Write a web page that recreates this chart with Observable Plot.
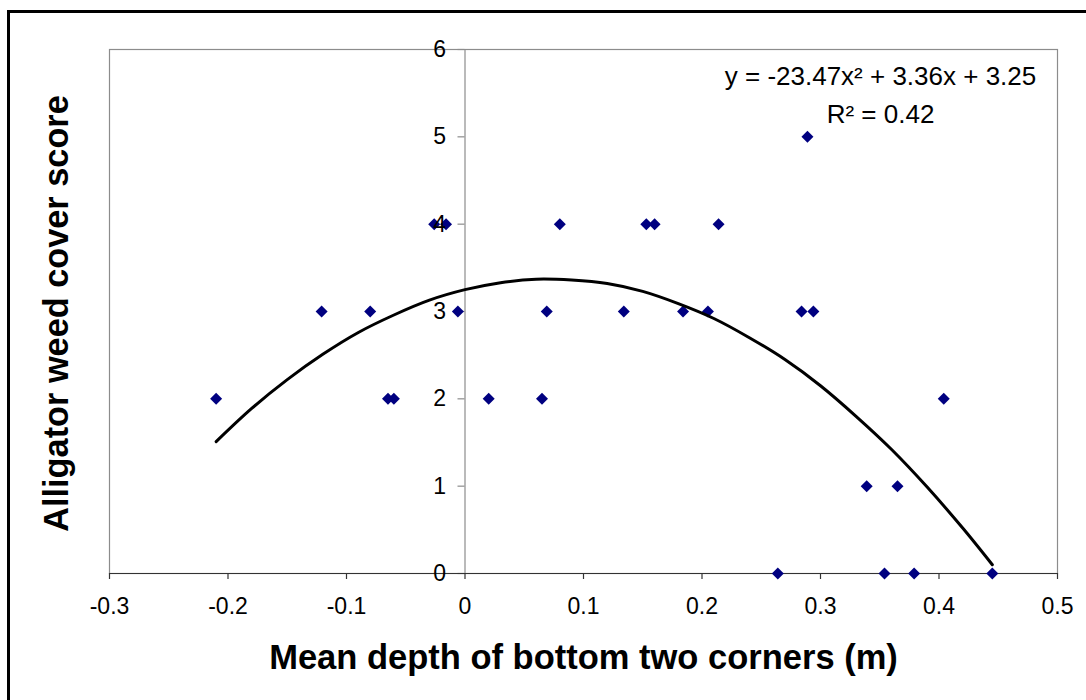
<!DOCTYPE html>
<html>
<head>
<meta charset="utf-8">
<script src="https://cdn.jsdelivr.net/npm/d3@7"></script>
<script src="https://cdn.jsdelivr.net/npm/@observablehq/plot@0.6"></script>
<style>
  html, body { margin: 0; padding: 0; background: #fff; overflow: hidden; }
  #wrap { position: relative; width: 1086px; height: 700px; overflow: hidden; background: #fff; }
  #chart svg { display: block; }
  #border { position: absolute; left: 7px; top: 10px; width: 2000px; height: 2000px;
            border: 3px solid #000; pointer-events: none; z-index: 2; }
</style>
</head>
<body>
<div id="wrap">
  <div id="chart"></div>
  <div id="border"></div>
</div>
<script>
// ---- data ----
const depth = [-0.210, -0.121, -0.080, -0.065, -0.060, -0.026, -0.016, -0.006, 0.020, 0.065,
               0.069, 0.080, 0.134, 0.153, 0.160, 0.184, 0.205, 0.214, 0.264, 0.284,
               0.289, 0.294, 0.339, 0.354, 0.365, 0.379, 0.404, 0.445];
const score = [2, 3, 3, 2, 2, 4, 4, 3, 2, 2,
               3, 4, 3, 4, 4, 3, 3, 4, 0, 3,
               5, 3, 1, 0, 1, 0, 2, 0];

// polynomial trend line as drawn
const trendX = [-0.21, -0.18, -0.15, -0.12, -0.09, -0.06, -0.03, 0, 0.03, 0.06, 0.09, 0.12,
                0.15, 0.18, 0.21, 0.24, 0.27, 0.30, 0.33, 0.36, 0.39, 0.42, 0.445];
const trendY = [1.51, 1.89, 2.22, 2.51, 2.76, 2.96, 3.13, 3.25, 3.33, 3.37, 3.36, 3.32,
                3.23, 3.09, 2.92, 2.70, 2.45, 2.15, 1.80, 1.42, 0.99, 0.52, 0.10];

const xTicks = [-0.3, -0.2, -0.1, 0, 0.1, 0.2, 0.3, 0.4, 0.5];
const xTickLabels = ["-0.3", "-0.2", "-0.1", "0", "0.1", "0.2", "0.3", "0.4", "0.5"];
const yTicks = [0, 1, 2, 3, 4, 5, 6];
const yTickLabels = ["0", "1", "2", "3", "4", "5", "6"];

const xTitle = "Mean depth of bottom two corners (m)";
const yTitle = "Alligator weed cover score";
const equationLine = "y = -23.47x\u00B2 + 3.36x + 3.25";
const r2Line = "R\u00B2 = 0.42";

// ---- build ----
const points = depth.map((d, i) => ({x: d, y: score[i]}));
const trend = trendX.map((d, i) => ({x: d, y: trendY[i]}));
const xt = xTicks.map((d, i) => ({v: d, label: xTickLabels[i]}));
const yt = yTicks.map((d, i) => ({v: d, label: yTickLabels[i]}));

const FONT = "'Liberation Sans', Arial, Helvetica, sans-serif";

const svg = Plot.plot({
  width: 1086,
  height: 700,
  marginLeft: 109,
  marginRight: 29,
  marginTop: 49,
  marginBottom: 127,
  style: {fontFamily: FONT, background: "#fff", color: "#000"},
  x: {domain: [-0.3, 0.5], axis: null},
  y: {domain: [0, 6], axis: null},
  marks: [
    Plot.frame({stroke: "#8c8c8c", strokeWidth: 1.2}),
    // y axis at x = 0
    Plot.ruleX([0], {stroke: "#8c8c8c", strokeWidth: 1.2}),
    Plot.ruleY(yt, {y: "v", x1: () => 0, x2: () => 0, insetLeft: -7, insetRight: 0,
                    stroke: "#8c8c8c", strokeWidth: 1.2}),
    // x axis at y = 0
    Plot.ruleY([0], {stroke: "#333", strokeWidth: 1.2}),
    Plot.ruleX(xt, {x: "v", y1: () => 0, y2: () => 0, insetTop: 0, insetBottom: -6,
                    stroke: "#333", strokeWidth: 1.2}),
    // data
    Plot.dot(points, {x: "x", y: "y", symbol: "diamond2", r: 5.4, fill: "#000080", stroke: "none"}),
    Plot.line(trend, {x: "x", y: "y", stroke: "#000", strokeWidth: 3, curve: "catmull-rom"}),
    // tick labels
    Plot.text(yt, {x: () => 0, y: "v", text: "label", textAnchor: "end", lineAnchor: "middle", dx: -19,
                   fontSize: 23, fill: "#000", ariaLabel: "ytl"}),
    Plot.text(xt, {x: "v", y: () => 0, text: "label", textAnchor: "middle", lineAnchor: "middle", dy: 33,
                   fontSize: 23, fill: "#000", ariaLabel: "xtl"}),
    // axis titles
    Plot.text([xTitle], {frameAnchor: "bottom", text: d => d, textAnchor: "middle", lineAnchor: "middle",
                         dy: 84, fontSize: 34.5, fontWeight: "bold", fill: "#000", ariaLabel: "xtitle"}),
    Plot.text([yTitle], {frameAnchor: "left", text: d => d, rotate: -90, textAnchor: "middle",
                         lineAnchor: "middle", dx: -52, dy: 2,
                         fontSize: 34.3, fontWeight: "bold", fill: "#000", ariaLabel: "ytitle"}),
    // equation
    Plot.text([equationLine], {frameAnchor: "top-right", text: d => d, textAnchor: "middle",
                               lineAnchor: "middle", dx: -177, dy: 27,
                               fontSize: 26, fill: "#000", ariaLabel: "eq"}),
    Plot.text([r2Line], {frameAnchor: "top-right", text: d => d, textAnchor: "middle",
                         lineAnchor: "middle", dx: -177, dy: 65,
                         fontSize: 26, fill: "#000", ariaLabel: "eq"})
  ]
});

function squash(root, label, sx, sy) {
  root.querySelectorAll(`g[aria-label="${label}"] text`).forEach(t => {
    t.setAttribute("transform", (t.getAttribute("transform") || "") + ` scale(${sx},${sy})`);
  });
}
squash(svg, "ytl", 1, 0.86);
squash(svg, "xtl", 1, 0.86);
squash(svg, "xtitle", 1, 0.9);

document.getElementById("chart").appendChild(svg);
</script>
</body>
</html>
